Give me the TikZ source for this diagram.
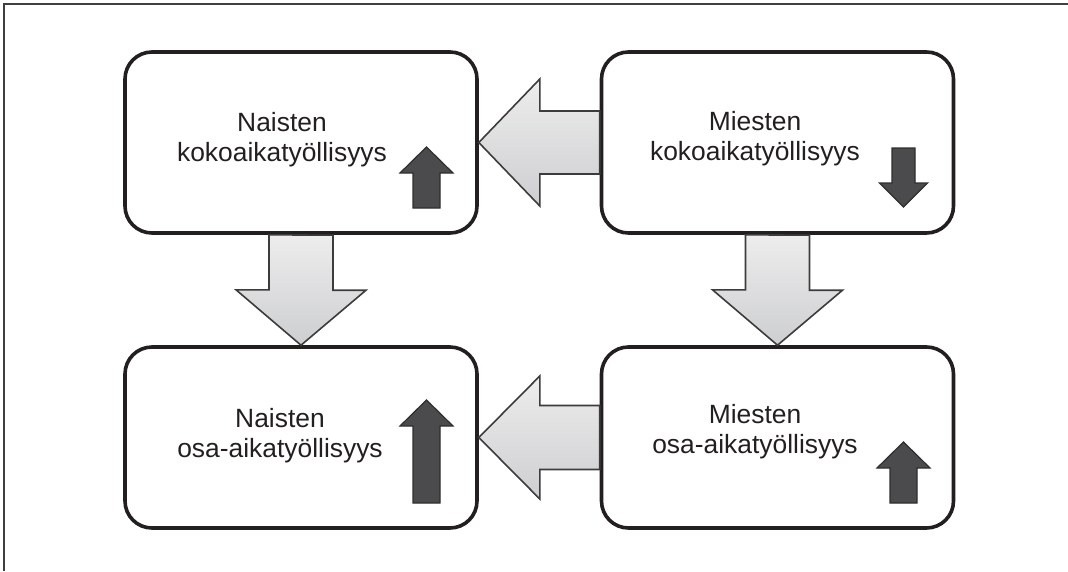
\documentclass[tikz,border=0pt]{standalone}
\usepackage{fontspec}
\setmainfont{Liberation Sans}
\usepackage{tikz}
\usetikzlibrary{calc}
\definecolor{boxline}{HTML}{231F20}
\definecolor{arrline}{HTML}{3C3C3C}
\definecolor{arrtop}{HTML}{EDEDED}
\definecolor{arrbot}{HTML}{CDCED0}
\definecolor{markfill}{HTML}{4B4B4D}
\definecolor{markline}{HTML}{2F2F2F}
\tikzstyle{bx}=[draw=boxline, line width=3.6pt, rounded corners=27pt, minimum width=352pt, minimum height=181pt, inner sep=0pt]
\tikzstyle{txt}=[align=center, font=\fontsize{26.4}{30}\selectfont, text=boxline, inner sep=0pt]
\tikzstyle{bigarr}=[draw=arrline, line width=1.6pt, top color=arrtop, bottom color=arrbot, line join=miter]
\tikzstyle{markarr}=[draw=markline, line width=1.2pt, fill=markfill, line join=miter]
\tikzstyle{frm}=[draw=black!75, line width=1.2pt]
\newcommand{\upmark}[2]{\draw[markarr] (#1) ++(-13.5,0) -- ++(0,{-(#2-26)}) -- ++(-13,0) -- ++(26.5,-26) -- ++(26.5,26) -- ++(-13,0) -- ++(0,{#2-26}) -- cycle;}

\begin{document}
\begin{tikzpicture}[x=1pt, y=-1pt]
    \useasboundingbox (0,0) rectangle (1068,571);
    %\draw [help lines, step=50] (0,0) grid (1068,571);
    \draw [frm] (4,571) -- (4,4) -- (1068,4);

    \node [bx] (NK) at (301,142.5)   {};
    \node [bx] (MK) at (777.5,142.5) {};
    \node [bx] (NO) at (301,437.5)   {};
    \node [bx] (MO) at (777.5,437.5) {};

    \node [txt] (NKt) at (282,140)   {Naisten\\kokoaikatyöllisyys};
    \node [txt] (MKt) at (755,138.5) {Miesten\\kokoaikatyöllisyys};
    \node [txt] (NOt) at (280,435.5) {Naisten\\osa-aikatyöllisyys};
    \node [txt] (MOt) at (755,431.5) {Miesten\\osa-aikatyöllisyys};

    % big grey arrows between the boxes
    \draw [bigarr] ($(NK.south)+(-32,0)$) -- ++(0,55) -- ++(-33,0) -- (NO.north) -- ++(65,-55) -- ++(-33,0) -- ++(0,-55) -- cycle;
    \draw [bigarr] ($(MK.south)+(-32,0)$) -- ++(0,55) -- ++(-33,0) -- (MO.north) -- ++(65,-55) -- ++(-33,0) -- ++(0,-55) -- cycle;
    \draw [bigarr] ($(MK.west)+(0,-31.5)$) -- ($(NK.east)+(61,-31.5)$) -- ++(0,-32) -- (NK.east) -- ++(61,63.5) -- ++(0,-32) -- ($(MK.west)+(0,31.5)$) -- cycle;
    \draw [bigarr] ($(MO.west)+(0,-32)$) -- ($(NO.east)+(61,-32)$) -- ++(0,-29.5) -- (NO.east) -- ++(61,61.5) -- ++(0,-29.5) -- ($(MO.west)+(0,32)$) -- cycle;

    % small dark trend arrows
    \upmark{426.5,208}{61}
    \upmark{426.5,503}{103}
    \upmark{903.5,503}{61}
    \draw [markarr] (892,148) -- (915,148) -- (915,183) -- (927.5,183) -- (903.5,207) -- (879.5,183) -- (892,183) -- cycle;

\end{tikzpicture}
\end{document}
